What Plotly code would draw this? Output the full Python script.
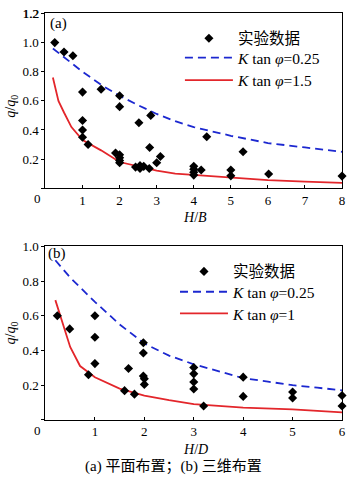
import plotly.graph_objects as go

W, H = 350, 484
FONT = "'Liberation Serif', 'Times New Roman', 'Noto Sans CJK SC', serif"

# ---------- data: panel (a) ----------
a_exp_x = [0.25, 0.5, 0.74, 1.0, 1.5, 2.0, 2.0, 1.0, 1.0, 1.0, 1.15, 2.52, 2.84, 4.35, 5.33,
           2.81, 3.1, 3.0, 1.89, 2.0, 2.0, 2.0, 2.0, 2.43, 2.55, 2.55, 2.65, 2.8,
           4.0, 4.0, 4.0, 4.0, 4.2, 5.0, 5.0, 6.02, 8.0]
a_exp_y = [1.0, 0.935, 0.91, 0.66, 0.68, 0.635, 0.56, 0.465, 0.40, 0.35, 0.30, 0.45, 0.50, 0.353, 0.25,
           0.28, 0.218, 0.175, 0.242, 0.23, 0.21, 0.19, 0.175, 0.145, 0.155, 0.135, 0.15, 0.135,
           0.15, 0.13, 0.11, 0.09, 0.125, 0.125, 0.085, 0.098, 0.083]
a_blue_x = [0.2, 0.5, 1.0, 1.5, 2.0, 2.5, 3.0, 3.5, 4.0, 5.0, 6.0, 7.0, 8.0]
a_blue_y = [0.96, 0.90, 0.80, 0.71, 0.635, 0.57, 0.51, 0.46, 0.42, 0.36, 0.31, 0.28, 0.25]
a_red_x = [0.2, 0.35, 0.5, 0.7, 1.0, 1.5, 2.0, 2.5, 3.0, 3.5, 4.0, 5.0, 6.0, 7.0, 8.0]
a_red_y = [0.76, 0.60, 0.52, 0.42, 0.33, 0.26, 0.18, 0.15, 0.12, 0.10, 0.09, 0.07, 0.055, 0.045, 0.037]

# ---------- data: panel (b) ----------
b_exp_x = [0.24, 0.49, 1.0, 1.0, 1.98, 1.98, 1.0, 0.87, 1.68, 1.98, 2.0, 2.0, 1.6, 1.8,
           3.0, 3.0, 3.0, 3.0, 3.2, 4.0, 4.0, 5.0, 5.0, 6.0, 6.0]
b_exp_y = [0.60, 0.524, 0.60, 0.476, 0.444, 0.385, 0.324, 0.26, 0.296, 0.252, 0.237, 0.204, 0.168, 0.148,
           0.302, 0.265, 0.218, 0.178, 0.08, 0.246, 0.135, 0.16, 0.126, 0.14, 0.08]
b_blue_x = [0.2, 0.5, 1.0, 1.5, 2.0, 2.5, 3.0, 3.5, 4.0, 4.5, 5.0, 5.5, 6.0]
b_blue_y = [0.92, 0.82, 0.68, 0.55, 0.44, 0.37, 0.32, 0.28, 0.24, 0.22, 0.20, 0.185, 0.17]
b_red_x = [0.2, 0.3, 0.4, 0.5, 0.7, 1.0, 1.5, 2.0, 2.5, 3.0, 3.5, 4.0, 5.0, 5.5, 6.0]
b_red_y = [0.69, 0.60, 0.50, 0.42, 0.31, 0.245, 0.18, 0.14, 0.113, 0.09, 0.08, 0.07, 0.06, 0.05, 0.043]

# ---------- labels ----------
leg_exp = "实验数据"
a_leg_blue = "<i>K</i> tan <i>φ</i>=0.25"
a_leg_red = "<i>K</i> tan <i>φ</i>=1.5"
b_leg_blue = "<i>K</i> tan <i>φ</i>=0.25"
b_leg_red = "<i>K</i> tan <i>φ</i>=1"
a_xticks = [1, 2, 3, 4, 5, 6, 7, 8]
b_xticks = [1, 2, 3, 4, 5, 6]
y_tick_step = 0.2
a_ymax = 1.2
b_ymax = 1.0
origin_label = "0"
caption = "(a) 平面布置；(b) 三维布置"

BLUE = "#1c28d0"
RED = "#e3262b"

def px_x(p):
    return p / W

def px_y(p):
    return 1 - p / H

fig = go.Figure()

def add_panel(xa, ya, ex, ey, bx, by, rx, ry, lb, lr, legs):
    fig.add_trace(go.Scatter(x=bx, y=by, mode="lines", line=dict(color=BLUE, width=1.8, dash="8px,5px"),
                             name=lb, xaxis=xa, yaxis=ya, legend=legs[1], cliponaxis=False))
    fig.add_trace(go.Scatter(x=rx, y=ry, mode="lines", line=dict(color=RED, width=1.8),
                             name=lr, xaxis=xa, yaxis=ya, legend=legs[2], cliponaxis=False))
    fig.add_trace(go.Scatter(x=ex, y=ey, mode="markers",
                             marker=dict(symbol="diamond", size=7, color="black"),
                             name=leg_exp, xaxis=xa, yaxis=ya, legend=legs[0], cliponaxis=False))

add_panel("x", "y", a_exp_x, a_exp_y, a_blue_x, a_blue_y, a_red_x, a_red_y, a_leg_blue, a_leg_red,
          ["legend", "legend2", "legend3"])
add_panel("x2", "y2", b_exp_x, b_exp_y, b_blue_x, b_blue_y, b_red_x, b_red_y, b_leg_blue, b_leg_red,
          ["legend4", "legend5", "legend6"])

axis_common = dict(showline=True, linecolor="black", linewidth=1, mirror=True, showgrid=False,
                   zeroline=False, tickfont=dict(family=FONT, size=13, color="black"),
                   tickcolor="black", ticklen=3, tickwidth=1, ticklabeloverflow="allow")
y_common = dict(tickmode="linear", tick0=y_tick_step, dtick=y_tick_step, tickformat=".1f",
                labelalias={"0.0": " "}, ticks="outside")

EPS = 1e-4

fig.update_layout(
    width=W, height=H, margin=dict(l=0, r=0, t=0, b=0),
    paper_bgcolor="white", plot_bgcolor="white",
    font=dict(family=FONT, size=13, color="black"),
    xaxis=dict(domain=[px_x(46), px_x(346)], range=[0, 8], anchor="y", tickvals=a_xticks,
               ticks="inside", **axis_common),
    # top axis: ticks up to 1.0 from the axis; the 1.2 label at the very top edge is added below
    yaxis=dict(domain=[px_y(187), px_y(6.7)], range=[0, a_ymax], anchor="x", **y_common, **axis_common),
    xaxis2=dict(domain=[px_x(46), px_x(346)], range=[0, 6], anchor="y2", tickvals=b_xticks,
                ticks="inside", **axis_common),
    yaxis2=dict(domain=[px_y(426), px_y(247)], range=[0, b_ymax + EPS], anchor="x2", **y_common, **axis_common),
    showlegend=True,
)

def leg(xp, yp):
    return dict(x=px_x(xp), y=px_y(yp), xanchor="left", yanchor="middle", bgcolor="rgba(0,0,0,0)",
                borderwidth=0, itemwidth=48, font=dict(family=FONT, size=15.5, color="black"),
                tracegroupgap=0)

fig.update_layout(
    legend=leg(182, 32.7), legend2=leg(182, 52.7), legend3=leg(182, 76),
    legend4=leg(177, 273.3), legend5=leg(177, 294.3), legend6=leg(177, 316.7),
)

def f(size):
    return dict(family=FONT, size=size, color="black")

ann = [
    dict(text="(a)", x=px_x(49), y=px_y(17), xref="paper", yref="paper", xanchor="left", yanchor="middle", font=f(15)),
    dict(text="(b)", x=px_x(47), y=px_y(254), xref="paper", yref="paper", xanchor="left", yanchor="middle", font=f(15)),
    dict(text=f"{a_ymax:.1f}", x=0, y=a_ymax, xref="x", yref="y", xanchor="right", yanchor="middle",
         xshift=-4, font=f(13)),
    dict(text=origin_label, x=0, y=0, xref="x", yref="y", xanchor="right", yanchor="top",
         xshift=-2, yshift=-1, font=f(13)),
    dict(text=origin_label, x=0, y=0, xref="x2", yref="y2", xanchor="right", yanchor="top",
         xshift=-2, yshift=-1, font=f(13)),
    dict(text="<i>H</i>/<i>B</i>", x=px_x(197), y=px_y(217), xref="paper", yref="paper",
         xanchor="center", yanchor="middle", font=f(14)),
    dict(text="<i>H</i>/<i>D</i>", x=px_x(198), y=px_y(457), xref="paper", yref="paper",
         xanchor="center", yanchor="middle", font=f(14)),
    dict(text="<i>q</i>/<i>q</i><sub>0</sub>", x=px_x(12), y=px_y(102), xref="paper", yref="paper",
         textangle=-90, xanchor="center", yanchor="middle", font=f(14)),
    dict(text="<i>q</i>/<i>q</i><sub>0</sub>", x=px_x(12), y=px_y(336), xref="paper", yref="paper",
         textangle=-90, xanchor="center", yanchor="middle", font=f(14)),
    dict(text=caption, x=px_x(176), y=px_y(474), xref="paper", yref="paper",
         xanchor="center", yanchor="middle", font=f(15)),
]
for a in ann:
    a["showarrow"] = False
fig.update_layout(annotations=ann)

fig.write_html("out.html")
